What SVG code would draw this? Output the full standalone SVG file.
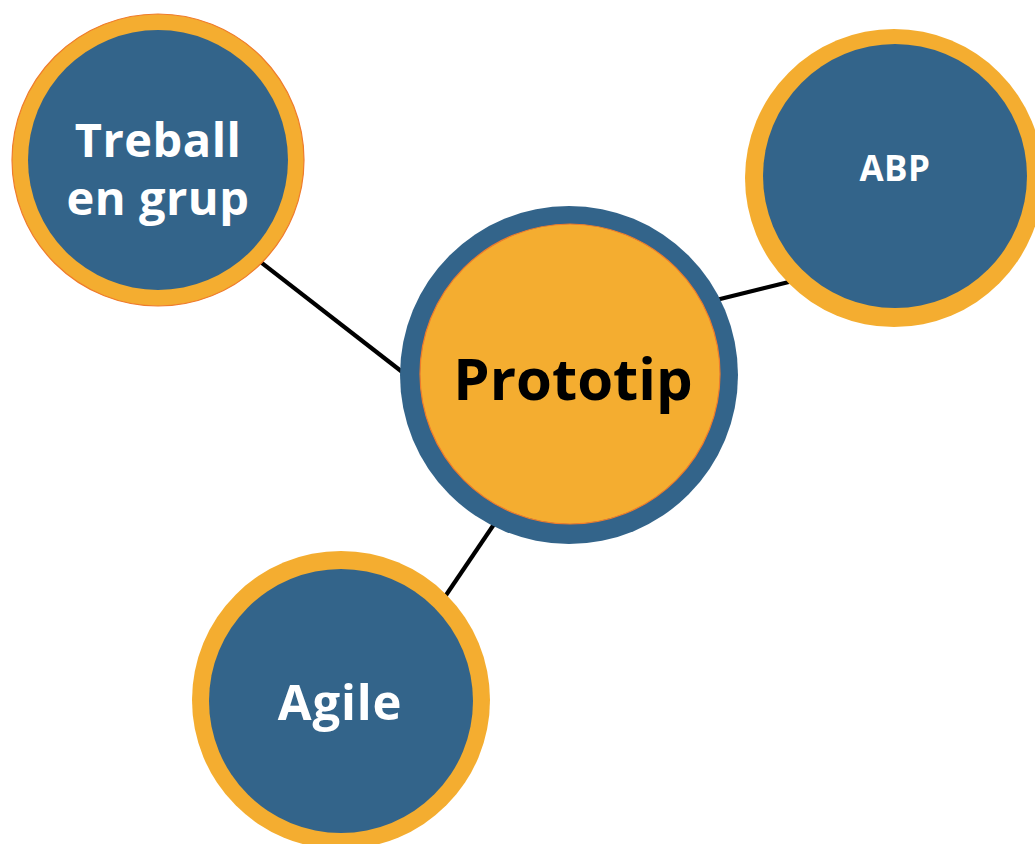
<svg xmlns="http://www.w3.org/2000/svg" width="1035" height="844" viewBox="0 0 1035 844">
  <style>
    .ring-o { fill: #F4AD30; }
    .edged { stroke: #EF7B2C; stroke-width: 1.2; }
    .core-b { fill: #33648A; }
    .ring-b { fill: #33648A; }
    .core-o { fill: #F4AD30; stroke: #EF7B2C; stroke-width: 1.2; }
    .lbl { font-family: "Open Sans", "Noto Sans", "DejaVu Sans", sans-serif; font-weight: 700; text-anchor: middle; }
    .lbl-w { fill: #FFFFFF; }
    .lbl-k { fill: #000000; }
    .link { stroke: #000000; stroke-width: 4.2; stroke-linecap: butt; fill: none; }
  </style>
  <rect width="1035" height="844" fill="#FFFFFF"/>

  <g id="connectors">
    <line class="link" x1="240" y1="246" x2="410" y2="378"/>
    <line class="link" x1="700" y1="304" x2="805" y2="278"/>
    <line class="link" x1="440" y1="604" x2="505" y2="508"/>
  </g>

  <g id="node-treball">
    <circle class="ring-o edged" cx="158" cy="160" r="146"/>
    <circle class="core-b" cx="158" cy="160" r="130"/>
    <text class="lbl lbl-w" x="158" y="157" font-size="47" letter-spacing="0.5">Treball</text>
    <text class="lbl lbl-w" x="158" y="215" font-size="47" letter-spacing="0.5">en grup</text>
  </g>

  <g id="node-abp">
    <circle class="ring-o" cx="894" cy="178" r="149"/>
    <circle class="core-b" cx="895" cy="176" r="132"/>
    <text class="lbl lbl-w" x="895" y="181" font-size="35" letter-spacing="0.5">ABP</text>
  </g>

  <g id="node-agile">
    <circle class="ring-o" cx="341" cy="700" r="149"/>
    <circle class="core-b" cx="341" cy="701" r="132"/>
    <text class="lbl lbl-w" x="340" y="720" font-size="49" letter-spacing="0.8">Agile</text>
  </g>

  <g id="node-prototip">
    <circle class="ring-b" cx="569" cy="375" r="169"/>
    <circle class="core-o" cx="570" cy="374" r="150"/>
    <text class="lbl lbl-k" x="573" y="400" font-size="58">Prototip</text>
  </g>
</svg>
